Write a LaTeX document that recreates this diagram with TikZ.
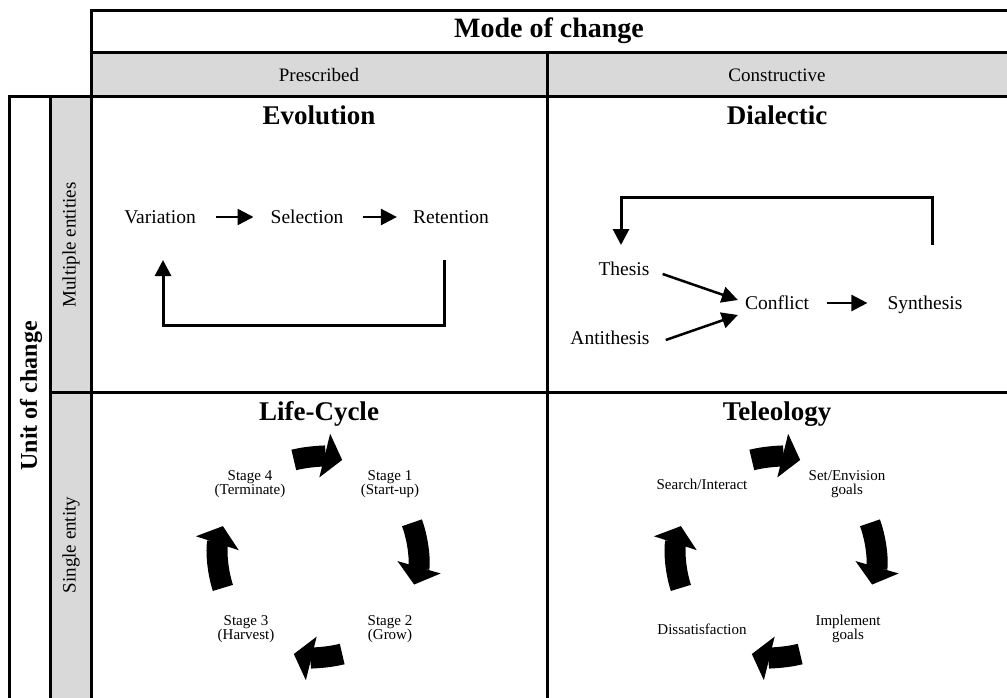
\documentclass[tikz,border=0pt]{standalone}
\usepackage{fontspec}
\setmainfont{Liberation Serif}
\usetikzlibrary{arrows.meta}
\definecolor{hdrgray}{HTML}{D9D9D9}
\begin{document}
\begin{tikzpicture}[x=1pt,y=1pt,
  grid/.style={line width=3pt},
  lbl/.style={font=\fontsize{19.5}{22}\selectfont, inner sep=0pt, anchor=base},
  hdr/.style={font=\fontsize{19}{22}\selectfont, inner sep=0pt, anchor=base},
  ttl/.style={font=\fontsize{27}{30}\selectfont\bfseries, inner sep=0pt, anchor=base},
  side/.style={font=\fontsize{19}{22}\selectfont, inner sep=0pt, rotate=90},
  sml/.style={font=\fontsize{15}{14}\selectfont, inner sep=0pt, align=center},
  conn/.style={line width=2.5pt, -{Triangle[length=16pt,width=16pt]}},
  loopline/.style={line width=3pt, -{Triangle[length=16pt,width=16pt]}},
  bigarrow/.style={line width=21pt, -{Triangle[length=18pt,width=44pt]}}
]
\useasboundingbox (0,0) rectangle (1007,-698);

% table backgrounds
\fill[hdrgray] (91,-53) rectangle (1010,-97);
\fill[hdrgray] (50,-97) rectangle (91,-702);

% table lines
\draw[grid] (1010,-11) -- (91,-11) -- (91,-702);
\draw[grid] (91,-53) -- (1010,-53);
\draw[grid] (1010,-97) -- (9,-97) -- (9,-702);
\draw[grid] (50,-97) -- (50,-702);
\draw[grid] (547,-53) -- (547,-702);
\draw[grid] (50,-392) -- (1010,-392);

% headers
\node[ttl, font=\fontsize{28}{30}\selectfont\bfseries] (mode) at (549,-38) {Mode of change};
\node[hdr] (pres) at (319,-82) {Prescribed};
\node[hdr] (cons) at (777,-82) {Constructive};
\node[side, font=\fontsize{24}{28}\selectfont\bfseries] (unit) at (31,-396) {Unit of change};
\node[side] (multi) at (71,-245) {Multiple entities};
\node[side] (single) at (71,-545) {Single entity};

% titles
\node[ttl] (evo) at (319,-125) {Evolution};
\node[ttl] (dia) at (777,-125) {Dialectic};
\node[ttl] (life) at (319,-420) {Life-Cycle};
\node[ttl] (tele) at (777,-420) {Teleology};

% Evolution
\node[lbl] (var) at (160,-223) {Variation};
\node[lbl] (sel) at (307,-223) {Selection};
\node[lbl] (ret) at (451,-223) {Retention};
\draw[conn, shorten <=20pt, shorten >=17pt] ([yshift=6pt]var.base east) -- ([yshift=6pt]sel.base west);
\draw[conn, shorten <=20pt, shorten >=16pt] ([yshift=6pt]sel.base east) -- ([yshift=6pt]ret.base west);
\coordinate (evoA) at (444,-260);
\coordinate (evoB) at (163,-260);
\draw[loopline] (evoA) -- ++(0,-65) -| (evoB);

% Dialectic
\node[lbl] (the) at (624,-275) {Thesis};
\node[lbl] (con) at (777,-309) {Conflict};
\node[lbl] (syn) at (925,-309) {Synthesis};
\node[lbl] (ant) at (610,-344) {Antithesis};
\draw[conn] ([shift={(13,1)}]the.base east) -- ([shift={(-7,9)}]con.base west);
\draw[conn] ([shift={(16,4)}]ant.base east) -- ([shift={(-7,-6)}]con.base west);
\draw[conn, shorten <=18pt, shorten >=20pt] ([yshift=6pt]con.base east) -- ([yshift=6pt]syn.base west);
\coordinate (diaA) at (932,-245);
\coordinate (diaB) at (621,-245);
\draw[loopline] (diaA) -- ++(0,48) -| (diaB);

% Life-Cycle
\node[sml] (s4) at (250,-484) {Stage 4\\(Terminate)};
\node[sml] (s1) at (390,-484) {Stage 1\\(Start-up)};
\node[sml] (s3) at (246,-629) {Stage 3\\(Harvest)};
\node[sml] (s2) at (390,-629) {Stage 2\\(Grow)};
\coordinate (lc) at (318,-557);
\foreach \a/\b in {104/76, 20/-16, -76/-104, 198/162}
  \draw[bigarrow] ([shift={(\a:100)}]lc) arc (\a:\b:100);

% Teleology
\node[sml] (t1) at (702,-484) {Search/Interact};
\node[sml] (t2) at (847,-484) {Set/Envision\\goals};
\node[sml] (t3) at (848,-629) {Implement\\goals};
\node[sml] (t4) at (702,-629) {Dissatisfaction};
\coordinate (tc) at (776,-557);
\foreach \a/\b in {104/76, 20/-16, -76/-104, 198/162}
  \draw[bigarrow] ([shift={(\a:100)}]tc) arc (\a:\b:100);
\end{tikzpicture}
\end{document}
